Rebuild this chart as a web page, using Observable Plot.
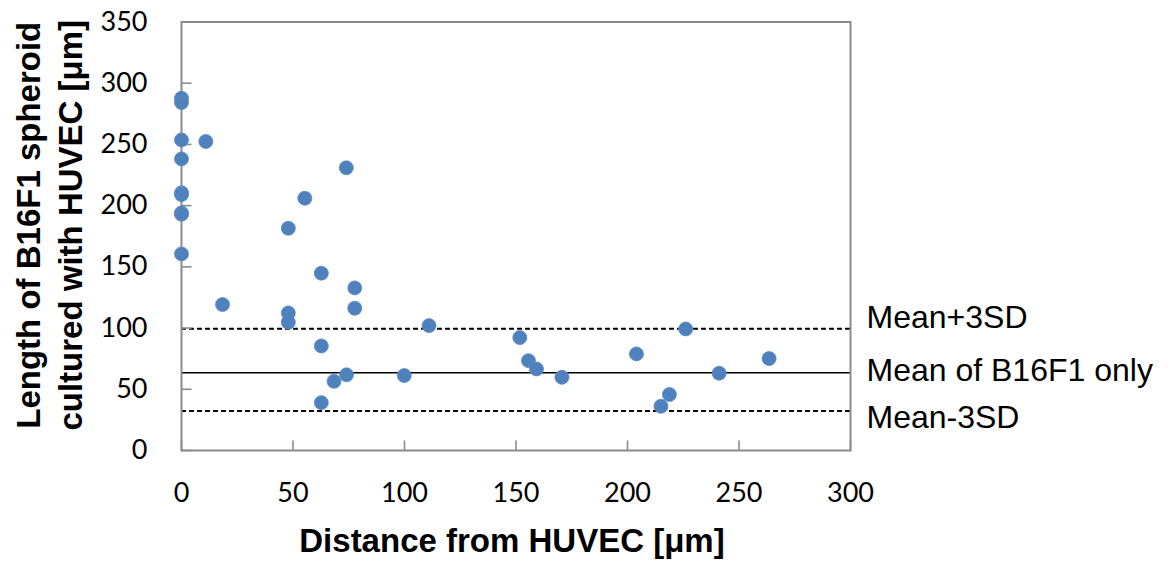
<!DOCTYPE html>
<html>
<head>
<meta charset="utf-8">
<script src="https://cdn.jsdelivr.net/npm/d3@7"></script>
<script src="https://cdn.jsdelivr.net/npm/@observablehq/plot@0.6"></script>
<style>
  html, body { margin: 0; padding: 0; background: #fff; }
</style>
</head>
<body>
<div id="chart"></div>
<script>
// Distance from HUVEC [μm]
const distance = [0, 0, 0, 10.9, 0, 73.9, 0, 0, 0, 0, 55.3, 47.9, 0, 62.7, 77.7, 18.4, 77.7, 47.9, 47.9, 111, 62.7, 74, 68.4, 99.9, 62.7, 151.7, 155.6, 159.2, 170.6, 204, 226.1, 218.8, 215, 241.1, 263.5];
// Length of B16F1 spheroid cultured with HUVEC [μm]
const length = [287.7, 284.2, 253.7, 252.4, 238.2, 230.9, 210.5, 209, 194.1, 193, 206, 181.5, 160.6, 144.8, 132.8, 119.2, 116.2, 112.4, 104.8, 102, 85.4, 61.8, 56.5, 61.2, 39.1, 92.2, 73.4, 66.6, 59.8, 78.9, 99.3, 45.7, 36.1, 63.1, 75.1];

const refValues = [99.5, 63.5, 32.3];
const refLabels = ["Mean+3SD", "Mean of B16F1 only", "Mean-3SD"];

const xTicks = [0, 50, 100, 150, 200, 250, 300];
const yTicks = [0, 50, 100, 150, 200, 250, 300, 350];

const xTitle = "Distance from HUVEC [μm]";
const yTitle = "Length of B16F1 spheroid\ncultured with HUVEC [μm]";

const points = distance.map((d, i) => ({x: d, y: length[i]}));
const refs = refValues.map((v, i) => ({value: v, label: refLabels[i]}));

const axisGray = "#8c8c8c";
const labelDy = [-11, -2, 7];
const TICK = 10;
// custom symbols for inward tick marks
const tickRight = {draw(ctx) { ctx.moveTo(0, 0); ctx.lineTo(TICK, 0); }};
const tickUp = {draw(ctx) { ctx.moveTo(0, 0); ctx.lineTo(0, -TICK); }};

const chart = Plot.plot({
  width: 1168,
  height: 561,
  marginLeft: 181,
  marginRight: 318,
  marginTop: 21.5,
  marginBottom: 111,
  style: {fontFamily: "Lato, 'Open Sans', sans-serif", fontSize: "27px", color: "#000", background: "#fff"},
  x: {domain: [0, 300], label: null},
  y: {domain: [0, 350], label: null},
  marks: [
    // reference lines
    Plot.ruleY([refs[0]], {y: "value", stroke: "#000", strokeWidth: 2, strokeDasharray: "5,3"}),
    Plot.ruleY([refs[1]], {y: "value", stroke: "#000", strokeWidth: 1.7}),
    Plot.ruleY([refs[2]], {y: "value", stroke: "#000", strokeWidth: 2, strokeDasharray: "5,3"}),
    // inward ticks
    Plot.dot(yTicks, {x: () => 0, y: d => d, symbol: tickRight, fill: "none", stroke: axisGray, strokeWidth: 1.6}),
    Plot.dot(xTicks, {x: d => d, y: () => 0, symbol: tickUp, fill: "none", stroke: axisGray, strokeWidth: 1.6}),
    // frame
    Plot.frame({stroke: axisGray, strokeWidth: 2}),
    // tick labels
    Plot.axisY({ticks: yTicks, tickSize: 0, tickPadding: 34, label: null, fontSize: 27, fontFamily: "Lato", fill: "#000"}),
    Plot.axisX({ticks: xTicks, tickSize: 0, tickPadding: 32, label: null, fontSize: 27, fontFamily: "Lato", fill: "#000"}),
    // reference labels
    ...refs.map((r, i) => Plot.text([r], {
      x: 300, y: "value", text: "label", textAnchor: "start", dx: 16, dy: labelDy[i],
      fontSize: 32, fontFamily: "'Liberation Sans', Arial, sans-serif", fill: "#000"
    })),
    // axis titles
    Plot.text([xTitle], {
      frameAnchor: "bottom", text: d => d, dx: -4, dy: 101, textAnchor: "middle",
      fontSize: 33, fontWeight: "bold", fontFamily: "'Liberation Sans', Arial, sans-serif", fill: "#000"
    }),
    Plot.text([yTitle], {
      frameAnchor: "left", text: d => d, rotate: -90, dx: -134, dy: -11, textAnchor: "middle",
      lineHeight: 1.26, fontSize: 33, fontWeight: "bold", fontFamily: "'Liberation Sans', Arial, sans-serif", fill: "#000"
    }),
    // points
    Plot.dot(points, {x: "x", y: "y", r: 7, fill: "#4f81bd", stroke: "#5b8cc6", strokeWidth: 0.8})
  ]
});

document.getElementById("chart").appendChild(chart);
</script>
</body>
</html>
